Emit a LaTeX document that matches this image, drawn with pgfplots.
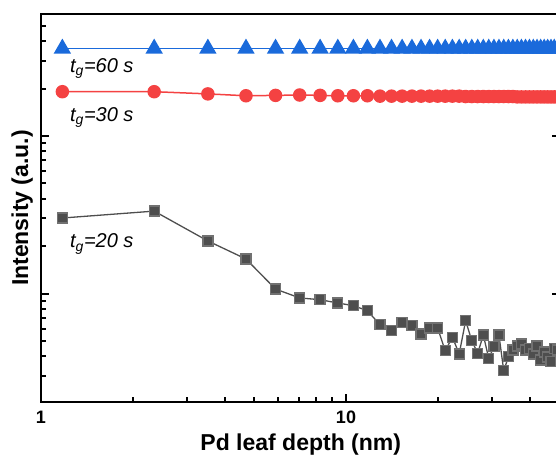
\documentclass[border=0pt]{standalone}
\usepackage{pgfplots}
\pgfplotsset{compat=1.18}
\usepackage{pgfplotstable}
\usepackage{fontspec}
\setmainfont{Liberation Sans}
\setsansfont{Liberation Sans}

\definecolor{gblue}{RGB}{26,106,219}
\definecolor{gred}{RGB}{244,66,66}
\definecolor{ggray}{RGB}{78,78,78}

% depth (nm) and intensity for three growth times
\pgfplotstableread{
x       g20    g30    g60
1.175   3.02   19.1   35.8
2.35    3.34   19.1   35.8
3.525   2.16   18.5   35.8
4.7     1.66   18.0   35.8
5.875   1.07   18.1   35.8
7.05    0.94   18.2   35.8
8.225   0.916  18.1   35.8
9.4     0.873  18.0   35.8
10.575  0.84   18.0   35.8
11.75   0.78   18.0   35.8
12.925  0.636  17.9   35.8
14.1    0.586  17.9   35.8
15.275  0.659  17.9   35.8
16.45   0.63   17.9   35.8
17.625  0.555  17.9   35.8
18.8    0.606  17.9   35.8
19.975  0.606  17.9   35.8
21.15   0.435  17.9   35.8
22.325  0.53   17.9   35.8
23.5    0.415  17.9   35.8
24.675  0.674  17.8   35.8
25.85   0.503  17.8   35.8
27.025  0.419  17.8   35.8
28.2    0.547  17.8   35.8
29.375  0.389  17.8   35.8
30.55   0.461  17.8   35.8
31.725  0.547  17.8   35.8
32.9    0.325  17.8   35.8
34.075  0.398  17.8   35.8
35.25   0.44   17.8   35.8
36.425  0.466  17.7   35.8
37.6    0.48   17.7   35.8
38.775  0.44   17.7   35.8
39.95   0.45   17.7   35.8
41.125  0.415  17.7   35.8
42.3    0.466  17.7   35.8
43.475  0.38   17.7   35.8
44.65   0.427  17.7   35.8
45.825  0.397  17.7   35.8
47.0    0.37   17.7   35.8
48.175  0.45   17.7   35.8
49.35   0.44   17.7   35.8
}\depthdata

\begin{document}
\begin{tikzpicture}
\begin{loglogaxis}[
  at={(0pt,0pt)}, anchor=south west,
  scale only axis,
  width=519.5pt, height=388pt,
  xmin=1, xmax=50.5,
  ymin=0.2057, ymax=59.4,
  xtick={1,10}, xticklabels={1,10},
  minor xtick={2,3,4,5,6,7,8,9,20,30,40,50},
  ytick={1,10}, yticklabels={},
  minor ytick={0.3,0.4,0.5,0.6,0.7,0.8,0.9,2,3,4,5,6,7,8,9,20,30,40,50},
  xtick pos=bottom, ytick pos=both,
  tick align=inside,
  major tick length=8.5pt, minor tick length=5pt,
  every tick/.style={black, line width=2pt},
  axis line style={line width=2.8pt},
  /pgf/number format/assume math mode=true,
  xticklabel style={font=\bfseries\fontsize{18}{18}\selectfont, anchor=base, yshift=-21pt},
  xlabel={Pd leaf depth (nm)},
  ylabel={Intensity (a.u.)},
  xlabel style={font=\bfseries\fontsize{23}{23}\selectfont, at={(rel axis cs:0.5,-0.1250)}, anchor=base},
  ylabel style={font=\bfseries\fontsize{23}{23}\selectfont, at={(rel axis cs:-0.025,0.5)}, anchor=base},
]
\addplot[color=ggray, line width=1.3pt, mark=square*, mark size=5pt,
  mark options={fill=ggray, draw=ggray!80}] table[x=x, y=g20] {\depthdata};
\addplot[color=gred, line width=1.5pt, mark=*, mark size=6pt,
  mark options={fill=gred, draw=gred}] table[x=x, y=g30] {\depthdata};
\addplot[color=gblue, line width=1.5pt, mark=triangle*, mark size=8.6pt,
  mark options={fill=gblue, draw=gblue}] table[x=x, y=g60] {\depthdata};

\node[anchor=base west, font=\itshape\fontsize{20}{20}\selectfont, inner sep=0pt]
  at (rel axis cs:0.0558,0.8505) {t\textsubscript{g}=60 s};
\node[anchor=base west, font=\itshape\fontsize{20}{20}\selectfont, inner sep=0pt]
  at (rel axis cs:0.0558,0.724) {t\textsubscript{g}=30 s};
\node[anchor=base west, font=\itshape\fontsize{20}{20}\selectfont, inner sep=0pt]
  at (rel axis cs:0.0558,0.397) {t\textsubscript{g}=20 s};
\end{loglogaxis}
\pgfresetboundingbox
\path (-41pt,-55pt) rectangle (515pt,402pt);
\end{tikzpicture}
\end{document}
